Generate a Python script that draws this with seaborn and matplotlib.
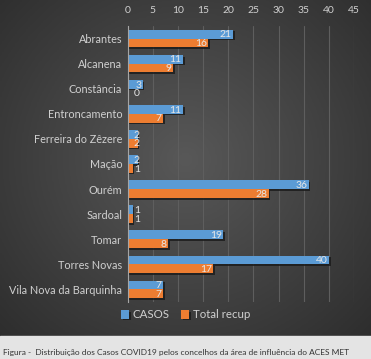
"""Distribuicao dos casos COVID19 pelos concelhos do ACES MET."""

import matplotlib

matplotlib.use("Agg")

import matplotlib.pyplot as plt
import matplotlib.patheffects as pe
import numpy as np
import pandas as pd
import seaborn as sns

concelhos = [
    "Abrantes",
    "Alcanena",
    "Constância",
    "Entroncamento",
    "Ferreira do Zêzere",
    "Mação",
    "Ourém",
    "Sardoal",
    "Tomar",
    "Torres Novas",
    "Vila Nova da Barquinha",
]
casos = [21, 11, 3, 11, 2, 2, 36, 1, 19, 40, 7]
total_recup = [16, 9, 0, 7, 2, 1, 28, 1, 8, 17, 7]
series_names = ["CASOS", "Total recup"]
x_ticks = [0, 5, 10, 15, 20, 25, 30, 35, 40, 45]

BLUE = "#5B9BD5"
ORANGE = "#ED7D31"
TEXT = "#d0d0d0"

df = pd.DataFrame(
    {
        "concelho": concelhos * 2,
        "valor": casos + total_recup,
        "serie": [series_names[0]] * len(concelhos) + [series_names[1]] * len(concelhos),
    }
)

sns.set_theme(style="dark")
plt.rcParams["font.family"] = ["Lato", "DejaVu Sans"]

fig = plt.figure(figsize=(3.71, 3.59), dpi=100)

# dark radial background panel
bg = fig.add_axes([0, 0, 1, 1], zorder=-10)
yy, xx = np.mgrid[-1:1:200j, -1:1:200j]
rad = np.sqrt((xx * 0.9) ** 2 + (yy * 0.9 + 0.1) ** 2)
bg.imshow(rad, cmap=sns.dark_palette("#585858", as_cmap=True, reverse=True),
          vmin=0, vmax=1.5, extent=[0, 1, 0, 1], aspect="auto")
bg.axhspan(0, 23 / 359, color="#e4e4e4")
bg.set_xlim(0, 1)
bg.set_ylim(0, 1)
bg.axis("off")

ax = fig.add_axes([0.3442, 0.1588, 0.61, 0.7688])
ax.set_facecolor("none")
sns.barplot(
    data=df, y="concelho", x="valor", hue="serie", orient="h",
    palette=[BLUE, ORANGE], width=0.7, saturation=1, ax=ax, legend=True,
    linewidth=0, edgecolor="none",
)

for patch in ax.patches:
    patch.set_path_effects([pe.SimplePatchShadow(offset=(1.2, -1.2), shadow_rgbFace="#1a1a1a", alpha=0.8), pe.Normal()])

for container in ax.containers:
    for bar in container:
        v = bar.get_width()
        yc = bar.get_y() + bar.get_height() / 2
        ax.annotate(f"{v:.0f}", xy=(max(v, 2.7), yc), xytext=(-1, -0.5), textcoords="offset points",
                    ha="right", va="center", fontsize=7.5, color="#e6e6e6")

ax.set_xlim(0, 45)
ax.set_ylim(len(concelhos) - 0.5, -0.5)
ax.set_xticks(x_ticks)
ax.xaxis.tick_top()
ax.tick_params(axis="x", length=0, pad=8, labelsize=7.5, colors=TEXT)
ax.tick_params(axis="y", length=0, pad=4, labelsize=7.8, colors=TEXT)
ax.grid(axis="x", color="#5e5e5e", linewidth=0.8)
ax.grid(axis="y", visible=False)
ax.set_axisbelow(True)
for side in ["top", "right", "bottom"]:
    ax.spines[side].set_visible(False)
ax.spines["left"].set_color("#a6a6a6")
ax.spines["left"].set_linewidth(0.8)
ax.set_xlabel("")
ax.set_ylabel("")

handles, labels = ax.get_legend_handles_labels()
ax.get_legend().remove()
fig.legend(handles, labels, loc="center", bbox_to_anchor=(0.5, 1 - 315 / 359), ncol=2,
           frameon=False, fontsize=8.3, labelcolor=TEXT, handlelength=0.7, handleheight=0.7,
           handletextpad=0.3, columnspacing=1.0)

fig.text(0.008, 1 - 352 / 359,
         "Figura -  Distribuição dos Casos COVID19 pelos concelhos da área de influência do ACES MET",
         fontsize=6.05, color="#333333", va="center", ha="left")

fig.savefig("out.png", dpi=100)
